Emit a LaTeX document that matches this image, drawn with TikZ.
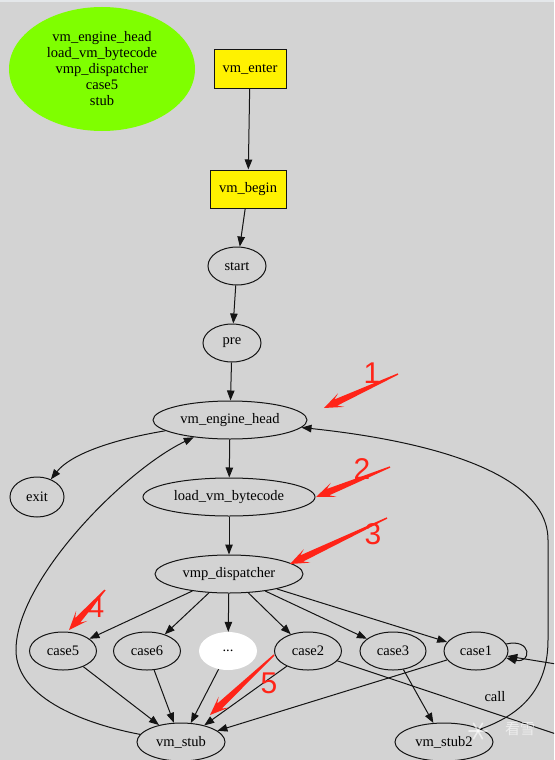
\documentclass[tikz,border=0pt]{standalone}
\usepackage{fontspec}
\setmainfont{Liberation Serif}
\newfontfamily\numfont{Liberation Sans}
\newfontfamily\cjkfont{Noto Sans CJK SC}
\usetikzlibrary{shapes.geometric,arrows.meta,calc}
\definecolor{bg}{HTML}{D3D3D3}
\definecolor{topstrip}{HTML}{E4E7EA}
\definecolor{lime}{HTML}{7FFF00}
\definecolor{annot}{HTML}{FF2418}
\definecolor{ink}{HTML}{141414}
\newcommand\redarrow[2]{%
  \coordinate (rh) at ($(#2)!13pt!(#1)$);
  \coordinate (rb) at ($(#2)!19pt!(#1)$);
  \fill[annot] ($(#1)!0.7pt!90:(#2)$) -- ($(rh)!3.4pt!90:(#2)$) -- ($(rb)!7.5pt!90:(#2)$) -- (#2)
     -- ($(rb)!7.5pt!-90:(#2)$) -- ($(rh)!3.4pt!-90:(#2)$) -- ($(#1)!0.7pt!-90:(#2)$) -- cycle;}
\tikzset{
  lbl/.style={font=\fontsize{14.5}{16}\selectfont, text=black},
  ell/.style={draw=ink, ellipse, inner sep=0pt, minimum height=38pt, line width=1pt, lbl},
  ybox/.style={draw=ink, fill=yellow, rectangle, inner sep=0pt, minimum height=38pt, line width=1pt, lbl},
  edge/.style={draw=ink, line width=1pt, -{Triangle[length=10pt,width=7.5pt]}},
  plain/.style={draw=ink, line width=1pt},
  num/.style={text=annot, font=\numfont\fontsize{30}{30}\selectfont, inner sep=0pt},
  wmark/.style={draw=white, opacity=0.6, line width=1.6pt, line cap=round},
}
\begin{document}
\begin{tikzpicture}[x=1pt,y=-1pt]
\useasboundingbox (0,0) rectangle (554,760);
\clip (0,0) rectangle (554,760);
\fill[bg] (0,0) rectangle (554,760);
\fill[topstrip] (0,0) rectangle (554,2);

% legend
\node[ellipse, fill=lime, minimum width=186pt, minimum height=124pt, inner sep=0pt, lbl, align=center] (legend) at (102,69)
  {vm\_engine\_head\\load\_vm\_bytecode\\vmp\_dispatcher\\case5\\stub};

% nodes
\node[ybox, minimum width=72pt] (enter) at (250,69) {vm\_enter};
\node[ybox, minimum width=76pt] (begin) at (248,189) {vm\_begin};
\node[ell, minimum width=58pt] (start) at (237,266) {start};
\node[ell, minimum width=58pt] (pre) at (232,343) {pre};
\node[ell, minimum width=154pt] (veh) at (230,420) {vm\_engine\_head};
\node[ell, minimum width=54pt, minimum height=40pt] (exit) at (37,497) {exit};
\node[ell, minimum width=172pt] (load) at (229,497) {load\_vm\_bytecode};
\node[ell, minimum width=148pt] (disp) at (229,574) {vmp\_dispatcher};
\node[ell, minimum width=67pt] (c5) at (63,651) {case5};
\node[ell, minimum width=67pt] (c6) at (147,651) {case6};
\node[ellipse, fill=white, inner sep=0pt, minimum width=58pt, minimum height=38pt, lbl] (dots) at (228,651) {...};
\node[ell, minimum width=67pt] (c2) at (308,651) {case2};
\node[ell, minimum width=66pt] (c3) at (393,651) {case3};
\node[ell, minimum width=64pt] (c1) at (476,651) {case1};
\node[ell, minimum width=88pt] (vs) at (181,742) {vm\_stub};
\node[ell, minimum width=98pt] (vs2) at (444,742) {vm\_stub2};
\coordinate (offA) at (556,664);
\coordinate (offB) at (556,734);

% edges
\draw[edge] (enter) -- (begin);
\draw[edge] (begin) -- (start);
\draw[edge] (start) -- (pre);
\draw[edge] (pre) -- (veh);
\draw[edge] (veh) .. controls (110,440) and (70,455) .. (exit);
\draw[edge] (veh) -- (load);
\draw[edge] (load) -- (disp);
\foreach \n in {c5,c6,dots,c2,c3,c1} \draw[edge] (disp) -- (\n);
\foreach \n in {c5,c6,dots,c2,c1} \draw[edge] (\n) -- (vs);
\draw[edge] (c3) -- (vs2);
\draw[edge] (c1) .. controls (532,638) and (532,664) .. (c1);
\draw[edge] (offA) -- (c1);
\draw[plain] (c2) -- (offB);
\node[lbl] (call) at (495,697) {call};
\draw[edge] (vs) .. controls (90,725) and (16,700) .. (16,650) .. controls (16,580) and (125,470) .. (veh);
\draw[edge] (vs2) .. controls (520,715) and (548,690) .. (548,640) -- (548,540) .. controls (548,470) and (420,440) .. (veh);

% watermark (snowflake icon drawn, then text)
\coordinate (wmc) at (478,731);
\foreach \a in {0,60,120} \draw[wmark] ($(wmc)+(\a:9pt)$) -- ($(wmc)+(\a+180:9pt)$);
\node[text=white, opacity=0.6, font=\cjkfont\fontsize{15}{15}\selectfont] (wm) at (520,729) {看雪};

% red annotations
\coordinate (a1t) at (398,374); \coordinate (a1h) at (324,408);
\coordinate (a2t) at (390,467); \coordinate (a2h) at (316,497);
\coordinate (a3t) at (387,518); \coordinate (a3h) at (290,564);
\coordinate (a4t) at (105,590); \coordinate (a4h) at (69,630);
\coordinate (a5t) at (274,655); \coordinate (a5h) at (210,715);
\redarrow{a1t}{a1h}
\redarrow{a2t}{a2h}
\redarrow{a3t}{a3h}
\redarrow{a4t}{a4h}
\redarrow{a5t}{a5h}
\node[num] (n1) at (372,373) {1};
\node[num] (n2) at (362,469) {2};
\node[num] (n3) at (373,534) {3};
\node[num] (n4) at (96,607) {4};
\node[num] (n5) at (269,683) {5};
\end{tikzpicture}
\end{document}
